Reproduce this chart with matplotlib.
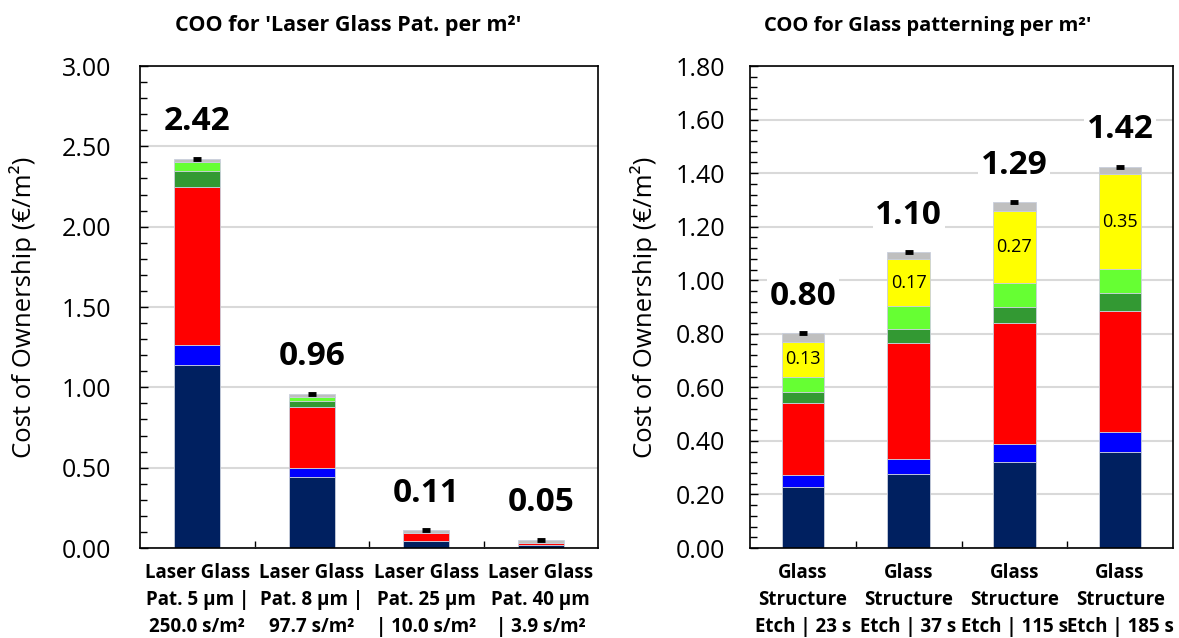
import matplotlib.pyplot as plt
import matplotlib.ticker as mticker
import numpy as np

plt.rcParams['font.family'] = ['Open Sans', 'DejaVu Sans']

# Left chart: laser glass patterning
laser_labels = ["Laser Glass\nPat. 5 µm |\n250.0 s/m²",
                "Laser Glass\nPat. 8 µm |\n97.7 s/m²",
                "Laser Glass\nPat. 25 µm\n| 10.0 s/m²",
                "Laser Glass\nPat. 40 µm\n| 3.9 s/m²"]
laser_navy = [1.140, 0.443, 0.045, 0.017]
laser_blue = [0.124, 0.052, 0.000, 0.002]
laser_red = [0.985, 0.385, 0.046, 0.015]
laser_dkgreen = [0.100, 0.038, 0.003, 0.000]
laser_ltgreen = [0.056, 0.021, 0.000, 0.000]
laser_yellow = [0.0, 0.0, 0.0, 0.0]
laser_gray = [0.019, 0.020, 0.018, 0.018]

# Right chart: glass structure etch
etch_labels = ["Glass\nStructure\nEtch | 23 s",
               "Glass\nStructure\nEtch | 37 s",
               "Glass\nStructure\nEtch | 115 s",
               "Glass\nStructure\nEtch | 185 s"]
etch_navy = [0.228, 0.275, 0.322, 0.360]
etch_blue = [0.043, 0.057, 0.068, 0.074]
etch_red = [0.272, 0.435, 0.451, 0.452]
etch_dkgreen = [0.040, 0.051, 0.059, 0.065]
etch_ltgreen = [0.056, 0.086, 0.091, 0.092]
etch_yellow = [0.131, 0.174, 0.269, 0.352]
etch_gray = [0.032, 0.026, 0.031, 0.028]

colores = ['#002060', '#0000FF', '#FF0000', '#339933', '#66FF33', '#FFFF00', '#BFBFBF']


def graficar_coo(ax, labels, series, ymax, major, minor, title, title_x, title_size,
                 label_pad, show_yellow):
    x = np.arange(len(labels))
    bottom = np.zeros(len(labels))
    for vals, col in zip(series, colores):
        vals = np.array(vals)
        ax.bar(x, vals, 0.4, bottom=bottom, color=col, edgecolor='#c9cfdc',
               linewidth=0.6, zorder=3)
        if show_yellow and col == '#FFFF00':
            for xi, b, v in zip(x, bottom, vals):
                ax.text(xi, b + v / 2, f"{v:.2f}", ha='center', va='center',
                        fontsize=13, zorder=5)
        bottom = bottom + vals

    # total marker and label
    ax.plot(x, bottom, ls='none', marker='_', ms=6, mew=3.5, color='black', zorder=4)
    for xi, tot in zip(x, bottom):
        ax.annotate(f"{tot:.2f}", (xi, tot), xytext=(0, 37), textcoords='offset pixels',
                    ha='center', va='center', fontsize=24, fontweight='bold', zorder=5,
                    bbox=dict(facecolor='white', edgecolor='none', pad=2))

    ax.set_xlim(-0.5, len(labels) - 0.5)
    ax.set_ylim(0, ymax)
    ax.yaxis.set_major_locator(mticker.MultipleLocator(major))
    ax.yaxis.set_minor_locator(mticker.MultipleLocator(minor))
    ax.yaxis.set_major_formatter(mticker.FormatStrFormatter('%.2f'))
    ax.grid(axis='y', which='major', color='#d9d9d9', linewidth=1.5, zorder=0)
    ax.tick_params(axis='y', which='both', direction='in', labelsize=18, pad=label_pad)
    ax.tick_params(axis='y', which='major', length=6, width=1)
    ax.tick_params(axis='y', which='minor', length=5, width=1)

    ax.set_xticks(x)
    ax.set_xticklabels(labels, fontsize=13.5, fontweight='bold', linespacing=1.45)
    ax.set_xticks(np.arange(0.5, len(labels) - 0.5, 1), minor=True)
    ax.tick_params(axis='x', which='major', length=0, pad=11)
    ax.tick_params(axis='x', which='minor', direction='in', length=5, width=1)

    for s in ax.spines.values():
        s.set_linewidth(1.2)
        s.set_zorder(6)
    ax.set_title(title, fontsize=title_size, fontweight='bold', pad=25, x=title_x)
    ax.set_ylabel("Cost of Ownership (€/m²)", fontsize=18.5)


fig = plt.figure(figsize=(11.79, 6.38), dpi=100)
ax1 = fig.add_axes([140 / 1179, 90 / 638, 458 / 1179, 482 / 638])
ax2 = fig.add_axes([750 / 1179, 90 / 638, 423 / 1179, 482 / 638])

graficar_coo(ax1, laser_labels,
             [laser_navy, laser_blue, laser_red, laser_dkgreen, laser_ltgreen, laser_yellow, laser_gray],
             3.0, 0.5, 0.1, "COO for 'Laser Glass Pat. per m²'", 0.454, 15.5, 21, False)
graficar_coo(ax2, etch_labels,
             [etch_navy, etch_blue, etch_red, etch_dkgreen, etch_ltgreen, etch_yellow, etch_gray],
             1.8, 0.2, 0.04, "COO for Glass patterning per m²'", 0.421, 14.5, 18, True)

ax1.yaxis.set_label_coords(-0.225, 0.5)
ax2.yaxis.set_label_coords(-0.217, 0.5)

fig.savefig("out.png", dpi=100)
plt.close(fig)
